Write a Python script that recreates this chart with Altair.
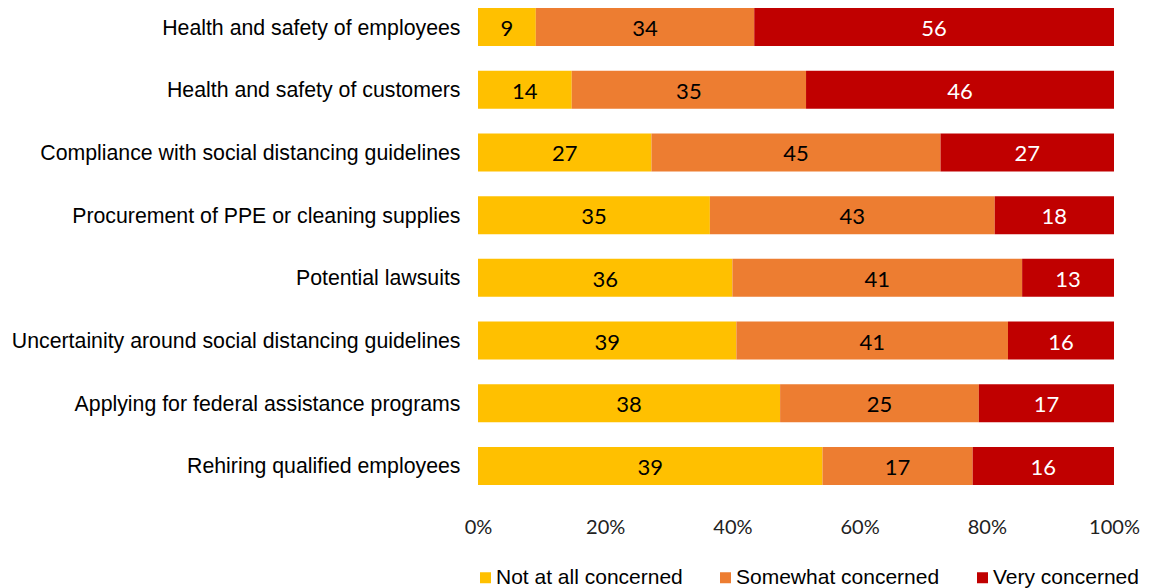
import altair as alt
import pandas as pd

categories = [
    "Health and safety of employees",
    "Health and safety of customers",
    "Compliance with social distancing guidelines",
    "Procurement of PPE or cleaning supplies",
    "Potential lawsuits",
    "Uncertainity around social distancing guidelines",
    "Applying for federal assistance programs",
    "Rehiring qualified employees",
]
not_at_all = [9, 14, 27, 35, 36, 39, 38, 39]
somewhat = [34, 35, 45, 43, 41, 41, 25, 17]
very = [56, 46, 27, 18, 13, 16, 17, 16]
levels = ["Not at all concerned", "Somewhat concerned", "Very concerned"]
colors = ["#FFC000", "#ED7D31", "#C00000"]
x_ticks = [0, 0.2, 0.4, 0.6, 0.8, 1.0]

rows = []
for i, c in enumerate(categories):
    for j, (lvl, vals) in enumerate(zip(levels, [not_at_all, somewhat, very])):
        rows.append({"category": c, "level": lvl, "order": j, "value": vals[i]})
df = pd.DataFrame(rows)

base = alt.Chart(df).transform_stack(
    stack="value",
    groupby=["category"],
    as_=["v0", "v1"],
    offset="normalize",
    sort=[alt.SortField("order")],
).transform_calculate(mid="(datum.v0 + datum.v1) / 2")

y_axis = alt.Axis(
    title=None,
    labelFont="Liberation Sans",
    labelFontSize=21.3,
    labelColor="#000000",
    labelPadding=18,
    labelOffset=1.5,
    ticks=False,
    domain=False,
    grid=False,
    labelLimit=800,
)
x_axis = alt.Axis(
    values=x_ticks,
    format=".0%",
    title=None,
    grid=False,
    domain=False,
    ticks=False,
    labelFlush=False,
    labelFont="Lato",
    labelFontSize=20,
    labelColor="#222222",
    labelPadding=24,
)
x_scale = alt.Scale(domain=[0, 1], nice=False)
y_scale = alt.Scale(paddingInner=0.394, paddingOuter=0.128)

bars = base.mark_bar().encode(
    x=alt.X("v0:Q", scale=x_scale, axis=x_axis),
    x2="v1:Q",
    y=alt.Y("category:N", sort=categories, scale=y_scale, axis=y_axis),
    color=alt.Color(
        "level:N",
        scale=alt.Scale(domain=levels, range=colors),
        legend=alt.Legend(
            title=None,
            orient="none",
            legendX=-3,
            legendY=567,
            direction="horizontal",
            symbolType="square",
            symbolSize=121,
            symbolStrokeWidth=0,
            labelFont="Liberation Sans",
            labelFontSize=21,
            labelColor="#000000",
            labelOffset=0,
            columnPadding=32,
            padding=0,
            labelLimit=400,
        ),
    ),
)

labels = base.mark_text(font="Lato", fontSize=22, baseline="middle", dy=2).encode(
    x=alt.X("mid:Q", scale=x_scale, axis=x_axis),
    y=alt.Y("category:N", sort=categories, scale=y_scale, axis=y_axis),
    text="value:Q",
    color=alt.condition(
        alt.datum.level == "Very concerned", alt.value("#FFFFFF"), alt.value("#000000")
    ),
)

chart = (
    alt.layer(bars, labels)
    .properties(
        width=636,
        height=493,
        autosize=alt.AutoSizeParams(type="none"),
        padding={"left": 478, "top": 0, "right": 36, "bottom": 95},
    )
    .configure(background="white")
    .configure_view(strokeWidth=0, stroke="transparent")
    .configure_axis(grid=False)
)

chart.save("out.html", embed_options={"renderer": "svg", "actions": False})
